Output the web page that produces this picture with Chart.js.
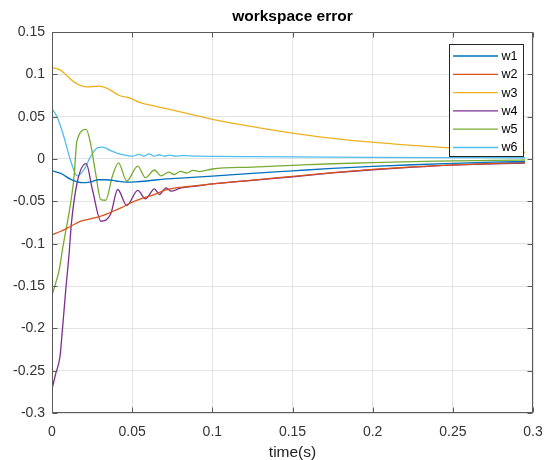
<!DOCTYPE html>
<html>
<head>
<meta charset="utf-8">
<script src="https://cdn.jsdelivr.net/npm/chart.js@4.4.0/dist/chart.umd.min.js"></script>
<style>
 body { margin:0; background:#fff; }
 canvas { display:block; }
</style>
</head>
<body>
<canvas id="canvasError" width="547" height="460"></canvas>
<script>
//Datos: tiempo (s) y error de cada serie
const tiempoW1=[0,0.0055,0.0117,0.019,0.0242,0.029,0.034,0.04,0.046,0.052,0.059,0.071,0.085,0.1,0.125,0.15,0.175,0.2,0.225,0.25,0.275,0.295];
const errorW1=[-0.014,-0.017,-0.024,-0.028,-0.027,-0.0245,-0.0245,-0.026,-0.0272,-0.027,-0.026,-0.0235,-0.022,-0.0203,-0.017,-0.014,-0.011,-0.0087,-0.0068,-0.0052,-0.0038,-0.003];

const tiempoW2=[0,0.0055,0.0117,0.018,0.0242,0.0304,0.0366,0.043,0.049,0.0553,0.0637,0.071,0.085,0.1,0.125,0.15,0.175,0.2,0.225,0.25,0.275,0.295];
const errorW2=[-0.0895,-0.0853,-0.0794,-0.0735,-0.0707,-0.0676,-0.0629,-0.0577,-0.0518,-0.047,-0.042,-0.0365,-0.0325,-0.0295,-0.025,-0.0205,-0.016,-0.0122,-0.0093,-0.007,-0.0053,-0.0042];

const tiempoW3=[0,0.0047,0.009,0.013,0.0175,0.0213,0.0296,0.0358,0.042,0.0483,0.0545,0.0628,0.0753,0.096,0.1168,0.15,0.185,0.22,0.25,0.275,0.295];
const errorW3=[0.108,0.1055,0.099,0.092,0.087,0.0853,0.086,0.082,0.075,0.0723,0.067,0.063,0.0577,0.0487,0.0408,0.0305,0.0222,0.0168,0.013,0.010,0.008];

const tiempoW4=[0,0.0024,0.005,0.0065,0.0086,0.0107,0.0121,0.0159,0.0213,0.0252,0.0306,0.0366,0.041,0.0466,0.0535,0.0583,0.0639,0.067,0.0711,0.0743,0.08,0.09,0.1,0.125,0.15,0.175,0.2,0.225,0.25,0.275,0.295];
const errorW4=[-0.2717,-0.253,-0.233,-0.2015,-0.154,-0.111,-0.076,-0.026,-0.0055,-0.036,-0.0735,-0.065,-0.036,-0.055,-0.037,-0.047,-0.0352,-0.042,-0.034,-0.038,-0.0345,-0.032,-0.0295,-0.0252,-0.021,-0.0165,-0.0127,-0.0097,-0.0073,-0.0058,-0.0048];

const tiempoW5=[0,0.0024,0.0045,0.0065,0.008,0.0113,0.0138,0.0155,0.0213,0.0242,0.0273,0.0304,0.0335,0.0377,0.0415,0.0466,0.0535,0.0583,0.0639,0.068,0.0728,0.0763,0.08,0.084,0.088,0.092,0.1,0.125,0.15,0.175,0.2,0.225,0.25,0.275,0.295];
const errorW5=[-0.161,-0.146,-0.131,-0.107,-0.091,-0.056,-0.020,0.021,0.0349,0.017,-0.018,-0.048,-0.0487,-0.020,-0.0045,-0.026,-0.0085,-0.022,-0.013,-0.020,-0.0156,-0.0183,-0.0145,-0.0165,-0.0135,-0.0148,-0.0118,-0.0095,-0.0075,-0.0056,-0.0042,-0.0031,-0.0023,-0.0017,-0.0012];

const tiempoW6=[0,0.0034,0.0076,0.0117,0.0158,0.020,0.0242,0.0283,0.0315,0.0366,0.0419,0.046,0.0502,0.0543,0.0574,0.0605,0.0637,0.0668,0.07,0.0735,0.077,0.082,0.09,0.1,0.125,0.15,0.2,0.25,0.295];
const errorW6=[0.0595,0.0487,0.025,-0.0026,-0.020,-0.0124,0.0033,0.0132,0.014,0.010,0.006,0.0045,0.0033,0.0055,0.0033,0.006,0.0033,0.005,0.0033,0.0045,0.0033,0.004,0.0035,0.0032,0.0028,0.0025,0.002,0.0017,0.0015];

const nombres=["w1","w2","w3","w4","w5","w6"];
const ticksX=[0,0.05,0.1,0.15,0.2,0.25,0.3];
const ticksY=[-0.3,-0.25,-0.2,-0.15,-0.1,-0.05,0,0.05,0.1,0.15];

//Colores por defecto de matlab
const colores=["#0072BD","#D95319","#EDB120","#7E2F8E","#77AC30","#4DBEEE"];
const fuente="'Liberation Sans', Arial, Helvetica, sans-serif";

const tiempos=[tiempoW1,tiempoW2,tiempoW3,tiempoW4,tiempoW5,tiempoW6];
const errores=[errorW1,errorW2,errorW3,errorW4,errorW5,errorW6];

//Armo los datasets uniendo tiempo y error
let datasets=[];
for (let i=0; i<nombres.length; i++) {
  let puntos=[];
  for (let j=0; j<tiempos[i].length; j++) {
    puntos.push({x: tiempos[i][j], y: errores[i][j]});
  }
  datasets.push({
    label: nombres[i],
    data: puntos,
    borderColor: colores[i],
    backgroundColor: colores[i],
    borderWidth: 1.3,
    pointRadius: 0,
    showLine: true,
    cubicInterpolationMode: 'monotone'
  });
}

//Plugin que dibuja la caja de los ejes con las marcas hacia adentro
const cajaEjes = {
  id: 'cajaEjes',
  afterDatasetsDraw(chart) {
    const ctx=chart.ctx;
    const a=chart.chartArea;
    const l=Math.round(a.left)+0.5, r=Math.round(a.right)-0.5;
    const t=Math.round(a.top)+0.5, b=Math.round(a.bottom)-0.5;
    ctx.save();
    ctx.strokeStyle='#5a5a5a';
    ctx.lineWidth=1;
    ctx.beginPath();
    ctx.rect(l, t, r-l, b-t);
    for (const v of ticksX) {
      const px=Math.round(chart.scales.x.getPixelForValue(v))+0.5;
      ctx.moveTo(px, b); ctx.lineTo(px, b-5);
      ctx.moveTo(px, t); ctx.lineTo(px, t+5);
    }
    for (const v of ticksY) {
      const py=Math.round(chart.scales.y.getPixelForValue(v))+0.5;
      ctx.moveTo(l, py); ctx.lineTo(l+5, py);
      ctx.moveTo(r, py); ctx.lineTo(r-5, py);
    }
    ctx.stroke();
    ctx.restore();
  }
};

//Plugin de leyenda dentro del grafico (arriba a la derecha)
const leyenda = {
  id: 'leyenda',
  afterDraw(chart) {
    const ctx=chart.ctx;
    ctx.save();
    ctx.fillStyle='#fff';
    ctx.fillRect(449.5, 44.5, 74, 112);
    ctx.strokeStyle='#262626';
    ctx.lineWidth=1;
    ctx.strokeRect(449.5, 44.5, 74, 112);
    ctx.font="12.5px "+fuente;
    ctx.textBaseline='middle';
    chart.data.datasets.forEach((d, i) => {
      const y=56+i*18.3;
      ctx.strokeStyle=d.borderColor;
      ctx.lineWidth=1.3;
      ctx.beginPath();
      ctx.moveTo(453, y); ctx.lineTo(498, y);
      ctx.stroke();
      ctx.fillStyle='#000';
      ctx.fillText(d.label, 501.5, y+0.5);
    });
    ctx.restore();
  }
};

const canvas=document.getElementById("canvasError");
new Chart(canvas, {
  type: 'scatter',
  data: { datasets: datasets },
  plugins: [cajaEjes, leyenda],
  options: {
    responsive: false,
    animation: false,
    devicePixelRatio: 1,
    layout: { padding: { left: 0, right: 14, top: 0, bottom: 0 } },
    plugins: {
      legend: { display: false },
      tooltip: { enabled: false },
      title: {
        display: true,
        text: 'workspace error',
        fullSize: false,
        color: '#000',
        font: { family: fuente, size: 15.5, weight: 'bold' },
        padding: { top: 7, bottom: 6.4 }
      }
    },
    scales: {
      x: {
        type: 'linear',
        min: 0,
        max: 0.3,
        afterBuildTicks: (s) => { s.ticks=ticksX.map(v => ({value: v})); },
        afterFit: (s) => { s.height=47; s.paddingLeft=0; s.paddingRight=0; },
        ticks: {
          callback: (v) => String(v),
          color: '#333',
          font: { family: fuente, size: 14 },
          padding: 11,
          maxRotation: 0,
          autoSkip: false
        },
        grid: { color: '#e3e3e3', drawTicks: false },
        border: { display: false },
        title: {
          display: true,
          text: 'time(s)',
          color: '#222',
          font: { family: fuente, size: 15.5, lineHeight: 1 },
          padding: 0
        }
      },
      y: {
        type: 'linear',
        min: -0.3,
        max: 0.15,
        afterBuildTicks: (s) => { s.ticks=ticksY.map(v => ({value: v})); },
        afterFit: (s) => { s.width=52; s.paddingTop=0; s.paddingBottom=0; },
        ticks: {
          callback: (v) => String(v),
          color: '#333',
          font: { family: fuente, size: 14 },
          padding: 7,
          autoSkip: false
        },
        grid: { color: '#e3e3e3', drawTicks: false },
        border: { display: false }
      }
    }
  }
});
</script>
</body>
</html>
